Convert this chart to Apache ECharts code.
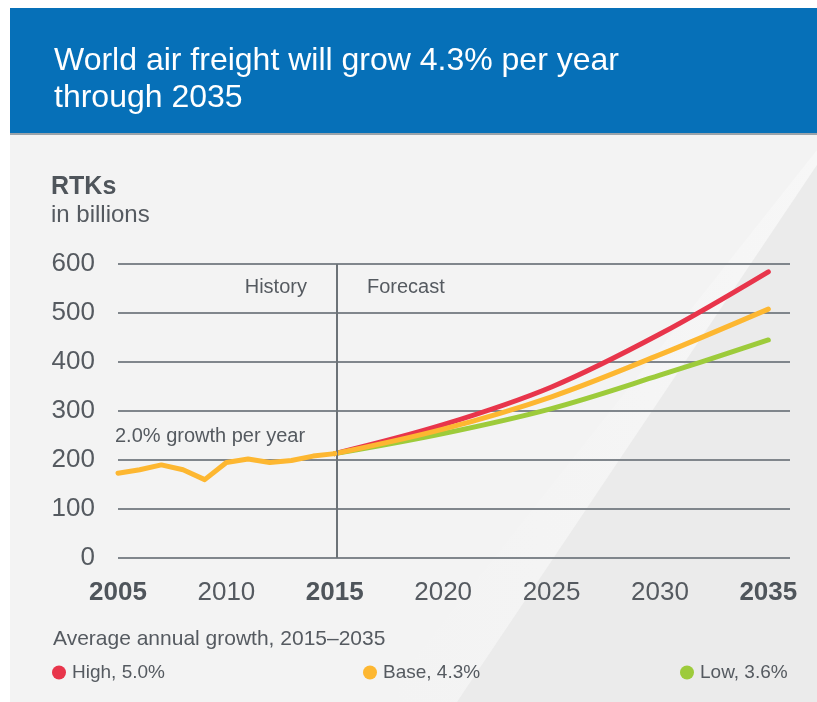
<!DOCTYPE html>
<html>
<head>
<meta charset="utf-8">
<script src="https://cdn.jsdelivr.net/npm/echarts@6/dist/echarts.min.js"></script>
<style>
  html, body { margin: 0; padding: 0; background: #ffffff; }
  #chart { width: 817px; height: 702px; }
</style>
</head>
<body>
<div id="chart"></div>
<script>
// Revenue tonne-kilometres, billions
const historyYears = [2005, 2006, 2007, 2008, 2009, 2010, 2011, 2012, 2013, 2014, 2015];
const historyRTK   = [173, 180, 190, 180, 160, 195, 202, 195, 199, 208, 213];

const forecastYears = [2015, 2020, 2025, 2030, 2035];
const highRTK = [213, 272, 349, 457, 584];
const baseRTK = [213, 263, 329, 415, 508];
const lowRTK  = [213, 254, 305, 373, 445];

const xTickYears = [2005, 2010, 2015, 2020, 2025, 2030, 2035];
const boldYears  = [2005, 2015, 2035];
const yTicks     = [0, 100, 200, 300, 400, 500, 600];

const scenarioNames = ['High, 5.0%', 'Base, 4.3%', 'Low, 3.6%'];
const scenarioColors = ['#e8354b', '#fdb731', '#9dcb3b'];

const FONT = '"Liberation Sans", Arial, Helvetica, sans-serif';
const TEXT_GREY = '#555a60';

const pairs = (xs, ys) => xs.map((x, i) => [x, ys[i]]);

const chart = echarts.init(document.getElementById('chart'), null, { renderer: 'canvas' });

const lineSeries = (name, xs, ys, color, smooth, z) => ({
  name: name,
  type: 'line',
  data: pairs(xs, ys),
  smooth: smooth,
  showSymbol: false,
  symbol: 'none',
  z: z,
  lineStyle: { color: color, width: 5, cap: 'round', join: 'round' },
  itemStyle: { color: color },
  emphasis: { disabled: true },
  animation: false
});

const legendAt = (name, left) => ({
  data: [name],
  left: left,
  top: 658,
  icon: 'circle',
  itemWidth: 14,
  itemHeight: 14,
  itemGap: 8,
  selectedMode: false,
  textStyle: { fontFamily: FONT, fontSize: 19, color: TEXT_GREY, padding: [0, 0, 0, 1] }
});

const option = {
  animation: false,
  backgroundColor: '#ffffff',
  graphic: [
    // light panel
    { type: 'rect', z: -10, shape: { x: 10, y: 133, width: 807, height: 569 }, style: { fill: '#f3f3f3' } },
    // soft highlight running along the wedge edge
    { type: 'polygon', z: -9, shape: { points: [[817, 150], [817, 165], [457, 702], [380, 702]] },
      style: { fill: new echarts.graphic.LinearGradient(0, 0, 1, 0, [
        { offset: 0, color: 'rgba(245,245,245,0)' },
        { offset: 1, color: 'rgba(247,247,247,1)' }
      ]) } },
    // darker diagonal wedge on the right
    { type: 'polygon', z: -9, shape: { points: [[817, 165], [817, 702], [457, 702]] }, style: { fill: '#ebebeb' } },
    // header band
    { type: 'rect', z: -8, shape: { x: 10, y: 8, width: 807, height: 125 }, style: { fill: '#0670b8' } },
    { type: 'rect', z: -8, shape: { x: 10, y: 133, width: 807, height: 2 }, style: { fill: '#9aa3aa' } }
  ],
  title: [
    {
      text: 'World air freight will grow 4.3% per year\nthrough 2035',
      left: 49, top: 38,
      textStyle: { fontFamily: FONT, fontSize: 32, fontWeight: 'normal', color: '#ffffff', lineHeight: 37 }
    },
    {
      text: 'RTKs',
      subtext: 'in billions',
      left: 46, top: 170,
      itemGap: 3,
      textStyle: { fontFamily: FONT, fontSize: 25, fontWeight: 'bold', color: '#4f555b' },
      subtextStyle: { fontFamily: FONT, fontSize: 24, color: TEXT_GREY }
    },
    {
      text: 'Average annual growth, 2015\u20132035',
      left: 48, top: 624,
      textStyle: { fontFamily: FONT, fontSize: 21, fontWeight: 'normal', color: TEXT_GREY }
    }
  ],
  legend: [
    legendAt(scenarioNames[0], 47),
    legendAt(scenarioNames[1], 358),
    legendAt(scenarioNames[2], 675)
  ],
  grid: { left: 118, right: 27, top: 264, bottom: 144, containLabel: false },
  xAxis: {
    type: 'value',
    min: 2005,
    max: 2036,
    interval: 5,
    axisLine: { show: false },
    axisTick: { show: false },
    splitLine: { show: false },
    axisLabel: {
      margin: 22,
      showMaxLabel: true,
      formatter: function (v) {
        if (xTickYears.indexOf(v) < 0) return '';
        return boldYears.indexOf(v) >= 0 ? '{b|' + v + '}' : '{n|' + v + '}';
      },
      rich: {
        b: { fontFamily: FONT, fontSize: 26, fontWeight: 'bold', color: '#4f555b' },
        n: { fontFamily: FONT, fontSize: 26, color: TEXT_GREY }
      }
    }
  },
  yAxis: {
    type: 'value',
    min: yTicks[0],
    max: yTicks[yTicks.length - 1],
    interval: 100,
    axisLine: { show: false },
    axisTick: { show: false },
    splitLine: { show: true, lineStyle: { color: '#80868c', width: 2 } },
    axisLabel: { margin: 23, fontFamily: FONT, fontSize: 26, color: TEXT_GREY }
  },
  series: [
    lineSeries(scenarioNames[0], forecastYears, highRTK, scenarioColors[0], 0.35, 3),
    lineSeries(scenarioNames[2], forecastYears, lowRTK, scenarioColors[2], 0.35, 3),
    lineSeries(scenarioNames[1], forecastYears, baseRTK, scenarioColors[1], 0.35, 4),
    Object.assign(lineSeries('History', historyYears, historyRTK, scenarioColors[1], false, 5), {
      markLine: {
        silent: true,
        symbol: 'none',
        label: { show: false },
        lineStyle: { color: '#6c7277', width: 2, type: 'solid' },
        data: [[{ coord: [2015.1, 0] }, { coord: [2015.1, 600] }]]
      }
    })
  ]
};

chart.setOption(option);

// Period labels placed from the axis scales
const at = (x, y) => chart.convertToPixel({ gridIndex: 0 }, [x, y]);
const divider = at(2015.1, 552);
const note = at(2005, 247);
chart.setOption({
  graphic: option.graphic.concat([
    { type: 'text', z: 10, x: divider[0] - 30, y: divider[1],
      style: { text: 'History', fontFamily: FONT, fontSize: 20, fill: TEXT_GREY, align: 'right', verticalAlign: 'middle' } },
    { type: 'text', z: 10, x: divider[0] + 30, y: divider[1],
      style: { text: 'Forecast', fontFamily: FONT, fontSize: 20, fill: TEXT_GREY, align: 'left', verticalAlign: 'middle' } },
    { type: 'text', z: 10, x: note[0] - 3, y: note[1],
      style: { text: '2.0% growth per year', fontFamily: FONT, fontSize: 20, fill: TEXT_GREY, align: 'left', verticalAlign: 'middle' } }
  ])
});
</script>
</body>
</html>
